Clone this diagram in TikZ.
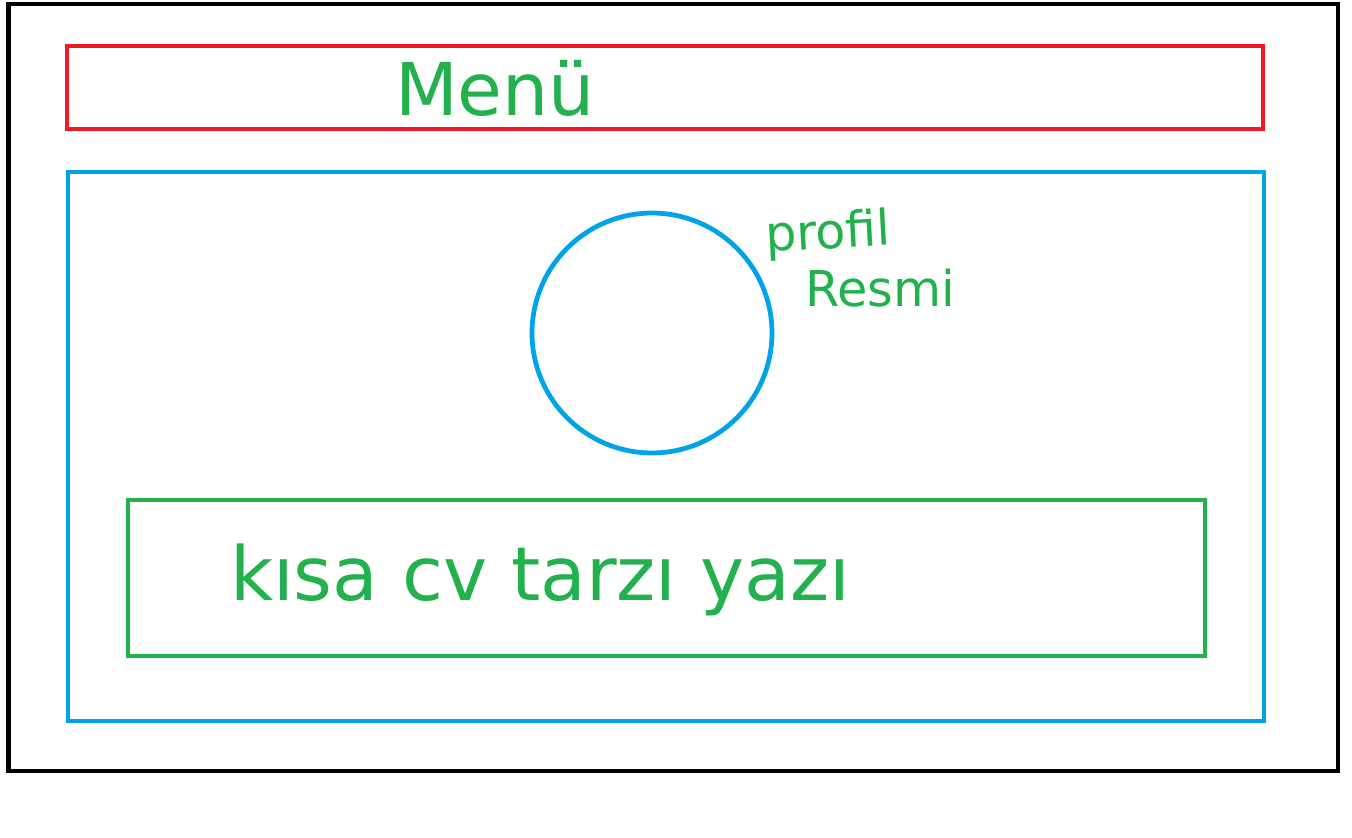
\documentclass[tikz,border=0pt]{standalone}
\usepackage{fontspec}
\usepackage{graphicx}
\setmainfont{DejaVu Sans}
\definecolor{pred}{RGB}{237,28,36}
\definecolor{pblue}{RGB}{0,162,232}
\definecolor{pgreen}{RGB}{34,177,76}
\tikzset{
  frame/.style={draw, line width=2.7pt, inner sep=0pt, outer sep=0pt},
  hand/.style={text=pgreen, inner sep=0pt, font=\fontsize{30}{34}\selectfont\mdseries}
}
\begin{document}
\begin{tikzpicture}[x=0.02cm, y=-0.02cm]
\useasboundingbox (0,0) rectangle (1352,838);
\node[frame, black, minimum width=26.6cm, minimum height=15.34cm] (page) at (673,387.5) {};
\node[frame, pred, minimum width=23.92cm, minimum height=1.66cm] (menu) at (665,87.5) {};
\node[frame, pblue, minimum width=23.92cm, minimum height=10.98cm] (content) at (666,446.5) {};
\node[frame, pblue, circle, minimum size=4.8cm] (photo) at (652,333) {};
\node[frame, pgreen, minimum width=21.54cm, minimum height=3.12cm] (cv) at (666.5,578) {};
\node[hand] (menutext) at (495,88) {\resizebox{4cm}{!}{Menü}};
\node[hand, rotate=3] (profil) at (828,235) {\resizebox{2.5cm}{!}{profil}};
\node[hand] (resmi) at (880,288) {\resizebox{3cm}{!}{Resmi}};
\node[hand] (cvtext) at (540,580) {\resizebox{12.4cm}{!}{kısa cv tarzı yazı}};
\end{tikzpicture}
\end{document}
